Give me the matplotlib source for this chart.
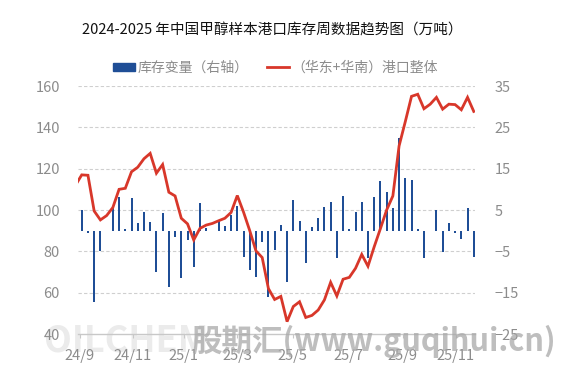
import matplotlib
matplotlib.use("Agg")
import matplotlib.pyplot as plt
import numpy as np

plt.rcParams["font.family"] = ["Noto Sans CJK SC", "DejaVu Sans"]

TITLE = "2024-2025 年中国甲醇样本港口库存周数据趋势图（万吨）"
BAR_LABEL = "库存变量（右轴）"
LINE_LABEL = "（华东+华南）港口整体"

# weekly port inventory (left axis, 万吨)
inventory = [112, 117, 116.8, 99.5, 95.2, 97.3, 101.2, 110, 110.5, 118.5,
             120.7, 124.8, 127.4, 117.8, 122, 108.6, 106.8, 96, 93.3, 85.5,
             91.1, 92.7, 93.5, 94.8, 96, 98.8, 107, 99, 90, 80.2,
             77, 62, 56.7, 58.2, 46, 53.3, 55.6, 48, 49, 51.6,
             56.5, 65, 58.4, 66.5, 67.4, 71.8, 78.5, 72.8, 82.2, 91,
             100, 106.8, 131, 142.8, 155, 156, 149, 151.2, 154.5, 148.8,
             151.2, 151, 148.5, 154.5, 147.7]
# weekly inventory change (right axis, 万吨)
change = [0, 5.0, -0.6, -17.3, -4.9, 0, 6.0, 8.1, 0.5, 7.8,
          1.8, 4.5, 2.2, -9.9, 4.3, -13.6, -1.5, -11.5, -2.2, -8.7,
          6.6, 0.7, 0, 2.3, 1.2, 3.8, 6.0, -6.4, -9.5, -11.1,
          -2.8, -16, -4.7, 1.4, -12.5, 7.4, 2.4, -7.9, 0.8, 3.0,
          5.8, 7.0, -6.7, 8.4, 0.3, 4.6, 7.0, -6.7, 8.2, 11.9,
          9.4, 5.4, 22.4, 12.8, 12.3, 0.5, -6.7, 0, 5.0, -5.1,
          1.9, -0.6, -2.1, 5.6, -6.3]
month_labels = ["24/9", "24/11", "25/1", "25/3", "25/5", "25/7", "25/9", "25/11"]

XTICK_POS = [0.7, 9.2, 17.4, 26, 34.9, 43.8, 52.6, 61.1]
BLUE = "#1f4e96"
RED = "#d8372a"
GRAY = "#8c8c8c"
GRID = "#cfcfcf"

x = np.arange(len(inventory))

fig = plt.figure(figsize=(5.87, 3.73), dpi=100)
ax = fig.add_axes([78 / 587, 39 / 373, 397 / 587, 248 / 373])
ax2 = ax.twinx()

ax.set_zorder(ax2.get_zorder() + 1)
ax.patch.set_visible(False)

ax2.bar(x, change, width=0.32, color=BLUE, zorder=2)
ax2.set_ylim(-25, 35)
ax2.set_yticks(np.arange(-25, 36, 10))

line, = ax.plot(x, inventory, color=RED, linewidth=2.0, zorder=3,
                solid_joinstyle="miter")
ax.set_ylim(40, 160)
ax.set_yticks(np.arange(40, 161, 20))
ax.set_xlim(0.4, 64.2)
ax.set_xticks(XTICK_POS, month_labels)

for y in range(60, 161, 20):
    ax2.axhline(-25 + (y - 40) / 2, color=GRID, linewidth=0.8,
                linestyle=(0, (3, 2)), zorder=0)

for a in (ax, ax2):
    for s in a.spines.values():
        s.set_visible(False)
ax.spines["bottom"].set_visible(True)
ax.spines["bottom"].set_color("#c8c8c8")
ax.spines["bottom"].set_linewidth(1.0)

ax.tick_params(axis="y", length=0, pad=13, labelsize=10.5, labelcolor=GRAY)
ax2.tick_params(axis="y", length=0, pad=14, labelsize=10.5, labelcolor=GRAY)
ax.tick_params(axis="x", length=3, color="#c8c8c8", pad=8,
               labelsize=10.5, labelcolor=GRAY)

fig.text(0.463, 0.918, TITLE, ha="center", va="center", fontsize=10.5,
         color="#111111")

h_bar = plt.Rectangle((0, 0), 1, 1, color=BLUE)
fig.legend([h_bar, line], [BAR_LABEL, LINE_LABEL], loc="center",
           bbox_to_anchor=(0.469, 0.818), ncol=2, frameon=False,
           fontsize=10, labelcolor=GRAY, handlelength=1.6, handleheight=0.6,
           columnspacing=1.3, handletextpad=0.2)

# watermarks
fig.text(0.075, 0.085, "OILCHEM", fontsize=26, fontweight="bold",
         color="#e6e6e6", alpha=0.8, ha="left", va="center", zorder=0)
fig.text(0.325, 0.085, "股期汇(www.guqihui.cn)", fontsize=22,
         fontweight="bold", style="italic", color="#a8a8a8", alpha=0.75,
         ha="left", va="center")

fig.savefig("out.png", dpi=100)
